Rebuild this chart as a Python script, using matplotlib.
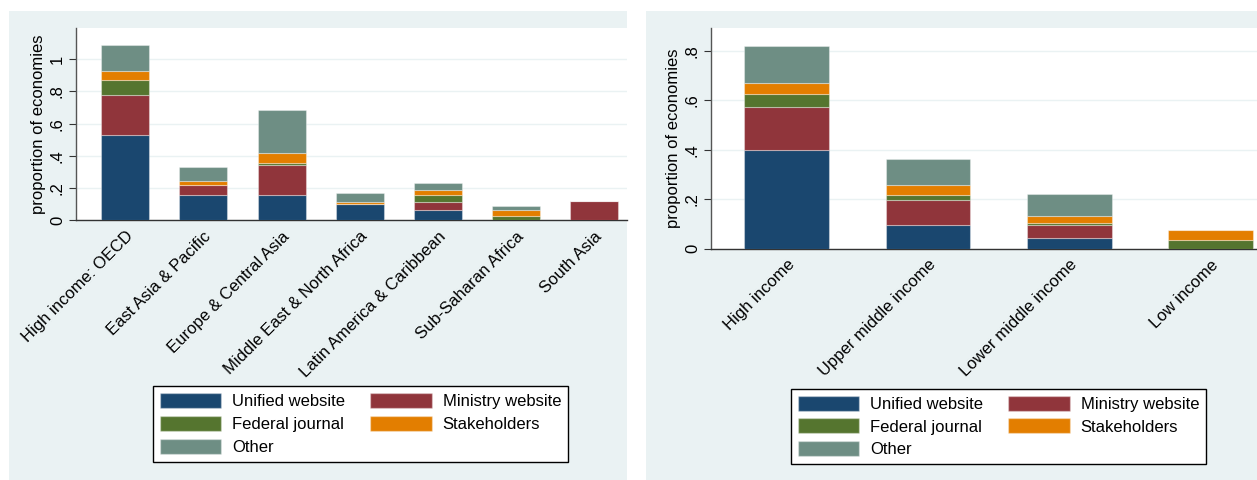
import numpy as np
import matplotlib
matplotlib.use("Agg")
import matplotlib.pyplot as plt
from matplotlib.patches import Rectangle, Patch

plt.rcParams["font.family"] = ["Liberation Sans", "DejaVu Sans"]

# Stata s2color palette
C_UNIFIED = "#1A476F"
C_MINISTRY = "#90353B"
C_FEDERAL = "#55752F"
C_STAKE = "#E37E00"
C_OTHER = "#6E8E84"
PANEL_BG = "#EAF2F3"

series_names = ["Unified website", "Ministry website", "Federal journal", "Stakeholders", "Other"]
series_colors = [C_UNIFIED, C_MINISTRY, C_FEDERAL, C_STAKE, C_OTHER]

# by region
regions = ["High income: OECD", "East Asia & Pacific", "Europe & Central Asia",
           "Middle East & North Africa", "Latin America & Caribbean",
           "Sub-Saharan Africa", "South Asia"]
reg_unified = [0.530, 0.158, 0.155, 0.100, 0.066, 0.000, 0.000]
reg_ministry = [0.248, 0.064, 0.187, 0.004, 0.050, 0.000, 0.118]
reg_federal = [0.094, 0.000, 0.016, 0.000, 0.042, 0.025, 0.000]
reg_stake = [0.058, 0.023, 0.057, 0.010, 0.033, 0.037, 0.000]
reg_other = [0.160, 0.087, 0.272, 0.058, 0.039, 0.029, 0.000]

# by income group
incomes = ["High income", "Upper middle income", "Lower middle income", "Low income"]
inc_unified = [0.399, 0.097, 0.043, 0.000]
inc_ministry = [0.175, 0.099, 0.052, 0.000]
inc_federal = [0.052, 0.022, 0.010, 0.036]
inc_stake = [0.044, 0.039, 0.029, 0.039]
inc_other = [0.149, 0.105, 0.086, 0.000]

W, H = 1257, 480
fig = plt.figure(figsize=(W / 100, H / 100), dpi=100)
fig.patch.set_facecolor("white")

# grey graph regions behind each plot
fig.add_artist(Rectangle((9 / W, 0), (627 - 9) / W, 1 - 11 / H,
                         transform=fig.transFigure, facecolor=PANEL_BG,
                         edgecolor="none", zorder=0))
fig.add_artist(Rectangle((646 / W, 0), (W - 646) / W, 1 - 11 / H,
                         transform=fig.transFigure, facecolor=PANEL_BG,
                         edgecolor="none", zorder=0))

FS = 12


def tick_text(t):
    if t == 0:
        return "0"
    if t == 1:
        return "1"
    return f"{t:.1f}".lstrip("0")


def stacked(ax, cats, layers, yticks, ylim, xlim, width):
    x = np.arange(len(cats))
    bottom = np.zeros(len(cats))
    for vals, col in zip(layers, series_colors):
        vals = np.array(vals)
        ax.bar(x, vals, width, bottom=bottom, color=col,
               edgecolor=(1, 1, 1, 0.35), linewidth=0.8, zorder=3)
        bottom += vals
    ax.set_xlim(*xlim)
    ax.set_ylim(*ylim)
    ax.set_yticks(yticks)
    ax.set_yticklabels([tick_text(t) for t in yticks], rotation=90,
                       va="center", fontsize=FS)
    ax.set_xticks(x)
    ax.set_xticklabels(cats, rotation=45, ha="right", rotation_mode="anchor",
                       fontsize=FS)
    ax.tick_params(axis="x", length=0, pad=6)
    ax.tick_params(axis="y", length=5, width=0.8, color="#333333", pad=3)
    ax.grid(axis="y", color=PANEL_BG, linewidth=1.0, zorder=0)
    ax.set_axisbelow(True)
    for s in ("top", "right"):
        ax.spines[s].set_visible(False)
    ax.spines["left"].set_color("#555555")
    ax.spines["bottom"].set_color("#333333")
    ax.spines["left"].set_linewidth(1.0)
    ax.spines["bottom"].set_linewidth(1.0)
    ax.set_ylabel("proportion of economies", fontsize=FS, labelpad=3)


ax1 = fig.add_axes([76 / W, 1 - 220.3 / H, (627 - 76) / W, (220.3 - 28) / H])
stacked(ax1, regions, [reg_unified, reg_ministry, reg_federal, reg_stake, reg_other],
        [0, 0.2, 0.4, 0.6, 0.8, 1.0], (0, 1.194), (-0.629, 6.417), 0.615)

ax2 = fig.add_axes([711 / W, 1 - 248.7 / H, (W - 711) / W, (248.7 - 28) / H])
stacked(ax2, incomes, [inc_unified, inc_ministry, inc_federal, inc_stake, inc_other],
        [0, 0.2, 0.4, 0.6, 0.8], (0, 0.892), (-0.536, 3.33), 0.60)

# legend reads row-wise: two entries per row
order = [0, 2, 4, 1, 3]
handles = [Patch(facecolor=series_colors[i], edgecolor=(1, 1, 1, 0.35)) for i in order]
labels = [series_names[i] for i in order]


def add_legend(x0, y0, x1, y1):
    fig.legend(handles, labels, ncol=2, fontsize=FS,
               loc="center", bbox_to_anchor=((x0 + x1) / 2 / W, 1 - (y0 + y1) / 2 / H),
               bbox_transform=fig.transFigure, frameon=True, fancybox=False,
               edgecolor="black", framealpha=1, handlelength=3.7, handleheight=1.0,
               handletextpad=0.65, columnspacing=1.5, labelspacing=0.4,
               borderpad=0.4, borderaxespad=0)


add_legend(153, 386, 568, 462)
add_legend(790, 388, 1207, 465)

fig.savefig("out.png", dpi=100, facecolor="white")
